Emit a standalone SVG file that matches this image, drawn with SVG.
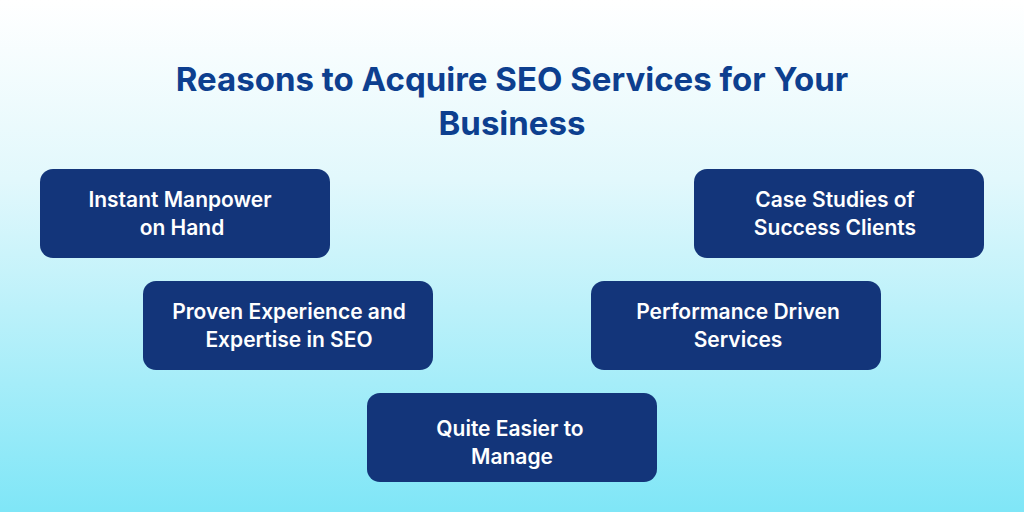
<svg xmlns="http://www.w3.org/2000/svg" width="1024" height="512" viewBox="0 0 1024 512">
<defs>
<linearGradient id="bg" x1="0" y1="0" x2="0" y2="1">
<stop offset="0" stop-color="#ffffff"/>
<stop offset="0.35" stop-color="#e2f8fc"/>
<stop offset="1" stop-color="#7fe6f7"/>
</linearGradient>
<style>
.box{fill:#13357a}
.t{font-family:Inter,"Noto Sans",sans-serif;font-weight:600;font-size:21px;fill:#ffffff;text-anchor:middle}
.title{font-family:Inter,"Noto Sans",sans-serif;font-weight:700;font-size:33px;fill:#0d3f8f;text-anchor:middle}
</style>
</defs>
<rect width="1024" height="512" fill="url(#bg)"/>
<text class="title" x="512" y="91">Reasons to Acquire SEO Services for Your</text>
<text class="title" x="512" y="135">Business</text>
<g id="connectors"/>
<g id="n1"><rect class="box" x="40" y="169" width="290" height="89" rx="13"/><text class="t" x="180" y="207">Instant Manpower</text><text class="t" x="182" y="235">on Hand</text></g>
<g id="n2"><rect class="box" x="694" y="169" width="290" height="89" rx="13"/><text class="t" x="835" y="207">Case Studies of</text><text class="t" x="835" y="235">Success Clients</text></g>
<g id="n3"><rect class="box" x="143" y="281" width="290" height="89" rx="13"/><text class="t" x="289" y="319">Proven Experience and</text><text class="t" x="289" y="347">Expertise in SEO</text></g>
<g id="n4"><rect class="box" x="591" y="281" width="290" height="89" rx="13"/><text class="t" x="738" y="319">Performance Driven</text><text class="t" x="738" y="347">Services</text></g>
<g id="n5"><rect class="box" x="367" y="393" width="290" height="89" rx="13"/><text class="t" x="510" y="436">Quite Easier to</text><text class="t" x="512" y="464">Manage</text></g>
</svg>
